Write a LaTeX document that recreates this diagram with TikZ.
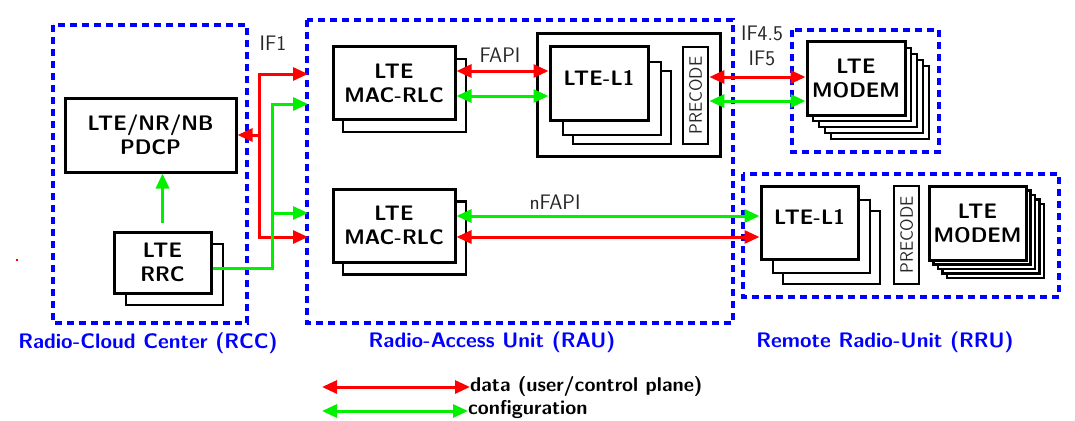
\documentclass[tikz,border=0pt]{standalone}
\usetikzlibrary{arrows.meta}
\definecolor{myred}{RGB}{255,0,0}
\definecolor{mygreen}{RGB}{0,240,0}
\definecolor{myblue}{RGB}{0,0,255}
\definecolor{lblgray}{RGB}{40,40,40}
\begin{document}
\begin{tikzpicture}[x=1pt,y=-1pt,
  box/.style={draw, fill=white, line width=3pt, inner sep=0pt, align=center,
    font=\sffamily\bfseries\fontsize{21}{24}\selectfont},
  backbox/.style={draw, fill=white, line width=2.5pt, inner sep=0pt},
  prebox/.style={draw, fill=white, line width=2.8pt, inner sep=0pt, minimum width=25pt},
  pretext/.style={font=\sffamily\fontsize{18}{20}\selectfont, text=lblgray, rotate=90},
  group/.style={draw=myblue, line width=3.5pt, dash pattern=on 7pt off 5pt},
  grouplbl/.style={font=\sffamily\bfseries\fontsize{21}{24}\selectfont, text=myblue},
  iflbl/.style={font=\sffamily\fontsize{21}{24}\selectfont, text=lblgray},
  dataline/.style={myred, line width=3pt},
  confline/.style={mygreen, line width=3pt},
  both/.style={{Triangle[length=15pt,width=13pt]}-{Triangle[length=15pt,width=13pt]}},
  fwd/.style={-{Triangle[length=15pt,width=13pt]}},
  leglbl/.style={font=\sffamily\bfseries\fontsize{20}{22}\selectfont, anchor=west, inner sep=0pt}
]
\useasboundingbox (0,0) rectangle (1075,420);

% group boxes
\draw[group] (53,25) rectangle (247,323);
\draw[group] (307,20) rectangle (733,323);
\draw[group] (792,30) rectangle (939,152);
\draw[group] (743,174) rectangle (1059,297);

\node[grouplbl] (rcclbl) at (148,343) {Radio-Cloud Center (RCC)};
\node[grouplbl] (raulbl) at (492,342) {Radio-Access Unit (RAU)};
\node[grouplbl] (rrulbl) at (885,342) {Remote Radio-Unit (RRU)};

% stray mark
\fill[myred] (16,259) rectangle (18,261);

% RCC
\node[box, minimum width=171pt, minimum height=74pt] (pdcp) at (150.5,135) {LTE/NR/NB\\PDCP};
\node[backbox, minimum width=97pt, minimum height=61pt] (rrcb) at (174.5,274.5) {};
\node[box, minimum width=97pt, minimum height=61pt] (rrc) at (162.5,262.5) {LTE\\RRC};

% RAU top
\node[backbox, minimum width=123pt, minimum height=73pt] (mac1b) at (404.5,95.5) {};
\node[box, minimum width=122pt, minimum height=72pt] (mac1) at (394,83) {LTE\\MAC-RLC};
\node[box, minimum width=183pt, minimum height=122pt] (l1cont) at (628.5,95) {};
\node[backbox, minimum width=98pt, minimum height=73pt] (l1a3) at (622,107.5) {};
\node[backbox, minimum width=98pt, minimum height=73pt] (l1a2) at (612,98.5) {};
\node[box, minimum width=98pt, minimum height=73pt, text depth=0pt] (l1a) at (599,83.5) {\raisebox{12pt}{LTE-L1}};
\node[prebox, minimum height=97pt] (pre1) at (695.5,95.5) {};
\node[pretext] (pre1t) at (pre1) {PRECODE};

% RAU bottom
\node[backbox, minimum width=123pt, minimum height=73pt] (mac2b) at (404.5,238) {};
\node[box, minimum width=122pt, minimum height=73pt] (mac2) at (394,225.5) {LTE\\MAC-RLC};

% modem top
\node[backbox, minimum width=98pt, minimum height=73pt] (m1e) at (880,102.5) {};
\node[backbox, minimum width=98pt, minimum height=73pt] (m1d) at (874,96.5) {};
\node[backbox, minimum width=98pt, minimum height=73pt] (m1c) at (868,90.5) {};
\node[backbox, minimum width=98pt, minimum height=73pt] (m1b) at (862,84.5) {};
\node[box, minimum width=98pt, minimum height=73pt] (modem1) at (856,78.5) {LTE\\MODEM};

% RRU
\node[backbox, minimum width=97pt, minimum height=73pt] (l1b3) at (831.5,247.5) {};
\node[backbox, minimum width=97pt, minimum height=73pt] (l1b2) at (821.5,236.5) {};
\node[box, minimum width=97pt, minimum height=73pt] (l1b) at (809.5,222.5) {\raisebox{12pt}{LTE-L1}};
\node[prebox, minimum height=98pt] (pre2) at (906.5,235) {};
\node[pretext] (pre2t) at (pre2) {PRECODE};
\node[backbox, minimum width=97pt, minimum height=74pt] (m2e) at (995.5,241) {};
\node[backbox, minimum width=97pt, minimum height=74pt] (m2d) at (991,236.5) {};
\node[backbox, minimum width=97pt, minimum height=74pt] (m2c) at (986.5,232) {};
\node[backbox, minimum width=97pt, minimum height=74pt] (m2b) at (982,227.5) {};
\node[box, minimum width=97pt, minimum height=74pt] (modem2) at (977.5,223) {LTE\\MODEM};

% interface labels
\node[iflbl] (if1lbl) at (273,43) {IF1};
\node[iflbl] (fapilbl) at (500,55) {FAPI};
\node[iflbl] (if45lbl) at (762,33) {IF4.5};
\node[iflbl] (if5lbl) at (762,58) {IF5};
\node[iflbl] (nfapilbl) at (555,202) {nFAPI};

% IF1 connectors
\coordinate (rj) at (259,135);
\coordinate (if1a) at (308,74);
\coordinate (if1d) at (308,237);
\coordinate (gtop) at (272,104);
\coordinate (gmid) at (272,213);
\coordinate (if1b) at (308,104);
\coordinate (if1c) at (308,213);
\draw[dataline, fwd] (rj) |- (if1a);
\draw[dataline, fwd] (rj) |- (if1d);
\draw[dataline, fwd] (rj) -- (pdcp.east);
\draw[confline, fwd] ([yshift=-5.5pt]rrc.east) -| (gtop) -- (if1b);
\draw[confline, fwd] (gmid) -- (if1c);
\draw[confline, fwd] ([yshift=8pt]rrc.north) -- (rrc.north |- pdcp.south);

% FAPI
\draw[dataline, both] ([yshift=12pt]mac1.east) -- ([yshift=12pt]mac1.east -| l1a.west);
\draw[confline, both] ([yshift=-13pt]mac1.east) -- ([yshift=-13pt]mac1.east -| l1a.west);

% IF4.5 / IF5
\draw[dataline, both] ([yshift=18.5pt]pre1.east) -- ([yshift=18.5pt]pre1.east -| modem1.west);
\draw[confline, both] ([yshift=-5.5pt]pre1.east) -- ([yshift=-5.5pt]pre1.east -| modem1.west);

% nFAPI
\draw[confline, both] ([yshift=9.5pt]mac2.east) -- ([yshift=9.5pt]mac2.east -| l1b.west);
\draw[dataline, both] ([yshift=-11.5pt]mac2.east) -- ([yshift=-11.5pt]mac2.east -| l1b.west);

% legend
\node[leglbl] (ldata) at (470,386) {data (user/control plane)};
\node[leglbl] (lconf) at (468,410) {configuration};
\coordinate (la) at (322,387);
\coordinate (lc) at (322,411);
\draw[dataline, both] (la) -- (la -| ldata.west);
\draw[confline, both] (lc) -- (lc -| lconf.west);
\end{tikzpicture}
\end{document}
